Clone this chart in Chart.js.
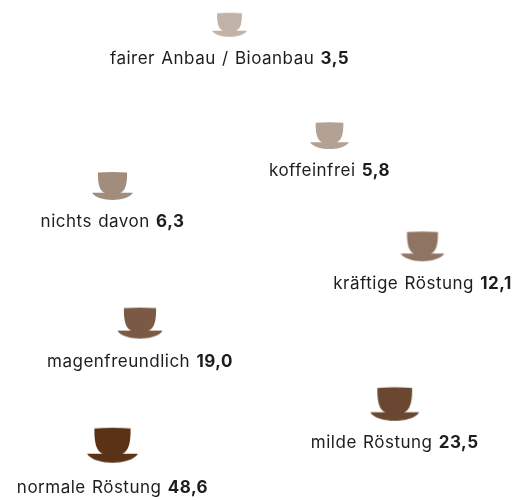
<!DOCTYPE html>
<html><head><meta charset="utf-8">
<style>html,body{margin:0;padding:0;background:#fff}#w{width:519px;height:500px}</style>
<script src="https://cdn.jsdelivr.net/npm/chart.js@4"></script>
</head><body><div id="w"><canvas id="c" width="519" height="500"></canvas></div>
<script>
const categories = ["fairer Anbau / Bioanbau","koffeinfrei","nichts davon","kräftige Röstung","magenfreundlich","milde Röstung","normale Röstung"];
const shareValues = [3.5,5.8,6.3,12.1,19.0,23.5,48.6];
const cupColors = ["#c1b3a7","#b3a294","#a28c7c","#8f7461","#7a5a45","#6a4730","#5a3317"];
const cupCentreX = [229.5,329.5,112.5,422.5,140,394.7,112.5];
const cupBaseY = [36.7,149,200,261.3,338.6,420.7,462.7];
const cupWidths = [35,39,41,43.6,45.4,49,51];
const labelBaseY = [64,176,227,289,367,448,493];
const FONT_SIZE = 17;

function cupImage(w,color){
  const H=Math.ceil(w*0.72)+3, cv=document.createElement('canvas');
  cv.width=Math.ceil(w)+4; cv.height=H*2;
  const g=cv.getContext('2d');
  g.fillStyle=color;
  g.translate(cv.width/2,H);
  const top=-0.68*w, hw=0.355*w, foot=0.19*w, s=-0.175*w;
  g.beginPath();
  g.moveTo(-hw,top+0.01*w);
  g.quadraticCurveTo(0,top-0.02*w,hw,top+0.01*w);
  g.bezierCurveTo(hw+0.005*w,top+0.3*w,0.31*w,s-0.04*w,foot,s);
  g.lineTo(w/2,s);
  g.bezierCurveTo(0.42*w,-0.05*w,0.2*w,0,0,0);
  g.bezierCurveTo(-0.2*w,0,-0.42*w,-0.05*w,-w/2,s);
  g.lineTo(-foot,s);
  g.bezierCurveTo(-0.31*w,s-0.04*w,-hw-0.005*w,top+0.3*w,-hw,top+0.01*w);
  g.closePath();
  g.fill();
  return cv;
}
const labelPlugin={id:'cupLabels',afterDatasetsDraw(ch){
  const g=ch.ctx,xs=ch.scales.x,ys=ch.scales.y;
  const reg=FONT_SIZE+'px Inter',bold='bold '+FONT_SIZE+'px Inter';
  g.save();g.fillStyle='#1d1d1b';g.textBaseline='alphabetic';
  g.letterSpacing='0.5px';g.wordSpacing='1px';
  categories.forEach((t,i)=>{
    const name=t+' ',val=shareValues[i].toFixed(1).replace('.',',');
    g.font=reg;const a=g.measureText(name).width;
    g.font=bold;const b=g.measureText(val).width;
    const x=xs.getPixelForValue(cupCentreX[i])-(a+b)/2;
    const y=ys.getPixelForValue(labelBaseY[i]);
    g.font=reg;g.fillText(name,x,y);
    g.font=bold;g.fillText(val,x+a,y);
  });
  g.restore();
}};
const images=cupWidths.map((w,i)=>cupImage(w,cupColors[i]));
new Chart(document.getElementById('c'),{
  type:'scatter',
  data:{labels:categories,datasets:[{
    data:shareValues.map((v,i)=>({x:cupCentreX[i],y:cupBaseY[i],v})),
    pointStyle:images,pointRadius:10,pointHoverRadius:10,clip:false
  }]},
  options:{responsive:false,animation:false,
    layout:{padding:0,autoPadding:false},
    plugins:{legend:{display:false},tooltip:{enabled:false}},
    scales:{x:{type:'linear',min:0,max:519,display:false},y:{type:'linear',min:0,max:500,reverse:true,display:false}}
  },
  plugins:[labelPlugin]
});
</script></body></html>
